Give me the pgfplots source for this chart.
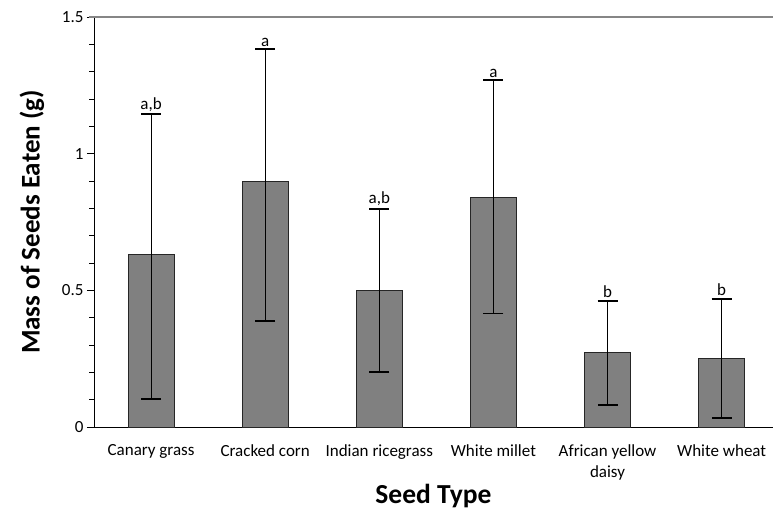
\documentclass[border=0pt]{standalone}
\usepackage{pgfplots}
\pgfplotsset{compat=1.18}
\usepackage{fontspec}
\setmainfont{Carlito}
\definecolor{barfill}{RGB}{128,128,128}
\definecolor{framegray}{RGB}{134,134,134}
\begin{document}
\begin{tikzpicture}
\begin{axis}[
    scale only axis,
    width=679pt, height=410pt,
    xmin=-0.5, xmax=5.45,
    ymin=0, ymax=1.5,
    axis lines*=left,
    axis line style={black, line width=0.9pt},
    ytick={0,0.5,1,1.5},
    yticklabels={0,0.5,1,1.5},
    minor y tick num=4,
    tick align=outside,
    major tick length=7pt,
    minor tick length=4.5pt,
    tick style={black, line width=0.8pt},
    xtick={0,...,5},
    xticklabels={Canary grass, Cracked corn, Indian ricegrass, White millet, African yellow\\daisy, White wheat},
    x tick style={draw=none},
    extra x ticks={-0.5,0.5,1.5,2.5,3.5,4.5},
    extra x tick labels={},
    extra x tick style={tick style={draw=black, line width=0.8pt}, major tick length=6pt},
    xticklabel style={font=\fontsize{17}{21}\selectfont, align=center, anchor=north, yshift=-7pt},
    yticklabel style={font=\fontsize{17}{21}\selectfont},
    xlabel={Seed Type},
    ylabel={Mass of Seeds Eaten (g)},
    every axis x label/.style={at={([yshift=-77pt]rel axis cs:0.5,0)}, anchor=base, font=\fontsize{27.5}{32}\selectfont\bfseries},
    every axis y label/.style={at={([xshift=-62pt]rel axis cs:0,0.5)}, anchor=center, rotate=90, font=\fontsize{27}{32}\selectfont\bfseries},
    clip=false,
]
\addplot[ybar, bar width=46pt, fill=barfill, draw=black!85, line width=0.8pt,
    error bars/.cd, y dir=both, y explicit,
    error bar style={black, line width=1.1pt},
    error mark options={rotate=90, black, line width=1.8pt, mark size=10pt}]
coordinates {
    (0,0.630) += (0,0.515) -= (0,0.527)
    (1,0.898) += (0,0.485) -= (0,0.509)
    (2,0.500) += (0,0.299) -= (0,0.298)
    (3,0.840) += (0,0.430) -= (0,0.425)
    (4,0.272) += (0,0.190) -= (0,0.192)
    (5,0.251) += (0,0.218) -= (0,0.217)
};
\addplot[draw=none, mark=none, nodes near coords, point meta=explicit symbolic,
    every node near coord/.style={anchor=south, font=\fontsize{17}{21}\selectfont, inner sep=2.5pt}]
coordinates {
    (0,1.145) [a,b]
    (1,1.383) [a]
    (2,0.799) [a,b]
    (3,1.270) [a]
    (4,0.462) [b]
    (5,0.469) [b]
};
\draw[framegray, line width=1.6pt] ([xshift=-5pt]rel axis cs:0,1) -- (rel axis cs:1,1);
\coordinate (sw) at (rel axis cs:0,0);
\coordinate (ne) at (rel axis cs:1,1);
\end{axis}
\pgfresetboundingbox
\path ([shift={(-94pt,-86pt)}]sw) rectangle ([shift={(0pt,17pt)}]ne);
\end{tikzpicture}
\end{document}
